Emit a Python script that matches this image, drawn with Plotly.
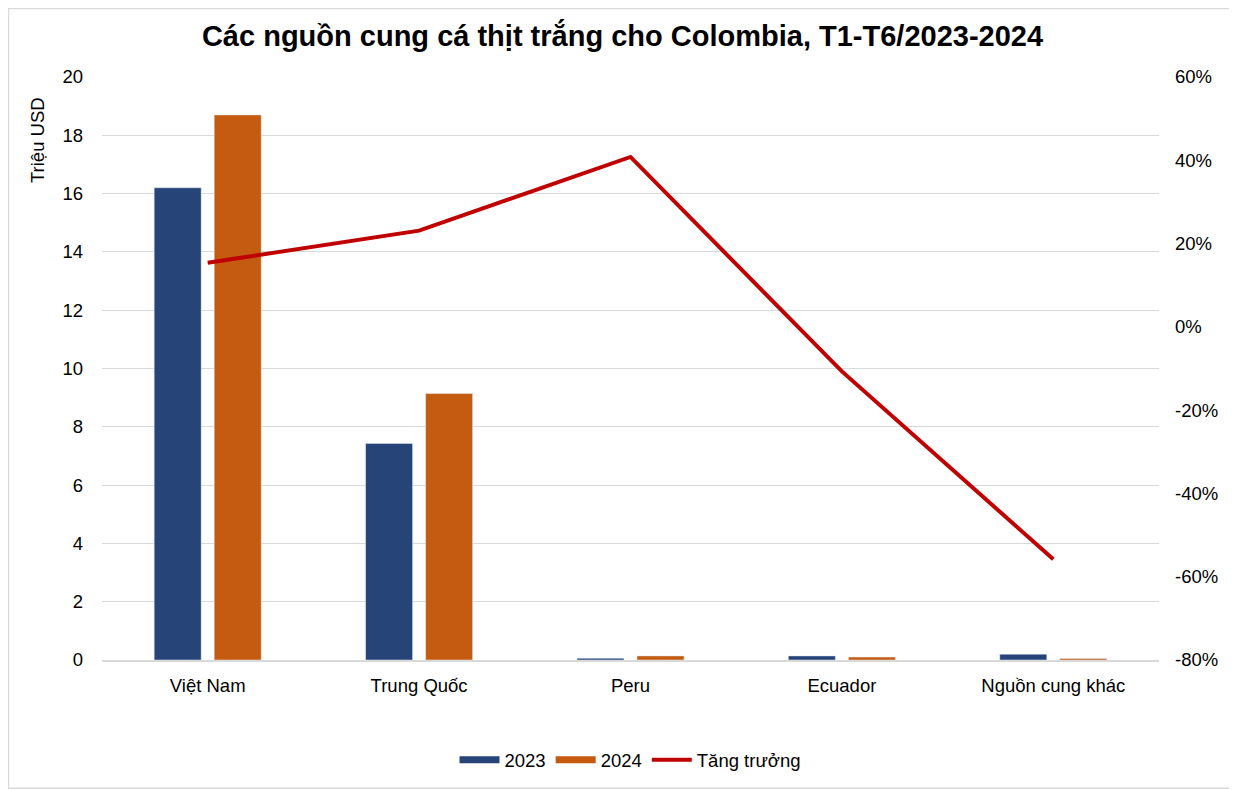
import plotly.graph_objects as go

categories = ["Việt Nam", "Trung Quốc", "Peru", "Ecuador", "Nguồn cung khác"]
values_2023 = [16.2, 7.43, 0.06, 0.14, 0.2]
values_2024 = [18.7, 9.14, 0.14, 0.1, 0.05]
growth = [0.154, 0.231, 0.408, -0.107, -0.558]

right_ticks = [0.6, 0.4, 0.2, 0, -0.2, -0.4, -0.6, -0.8]
right_labels = ["60%", "40%", "20%", "0%", "-20%", "-40%", "-60%", "-80%"]

font = "Liberation Sans, Arial, sans-serif"
c2023, c2024, cline = "#264478", "#C55A11", "#C00000"

fig = go.Figure()
fig.add_trace(go.Bar(x=categories, y=values_2023, name="2023",
                     marker=dict(color=c2023), showlegend=False))
fig.add_trace(go.Bar(x=categories, y=values_2024, name="2024",
                     marker=dict(color=c2024), showlegend=False))
fig.add_trace(go.Scatter(x=categories, y=growth, name="Tăng trưởng",
                         yaxis="y2", mode="lines",
                         line=dict(color=cline, width=4), showlegend=False))

# legend-only entries, to get the wide flat swatches of the original
for name, color, w in [("2023", c2023, 7), ("2024", c2024, 7), ("Tăng trưởng", cline, 4)]:
    fig.add_trace(go.Scatter(x=[None], y=[None], name=name, mode="lines",
                             line=dict(color=color, width=w)))

# page has an 8px body margin, so the figure is a bit smaller and shifted
fig.update_layout(
    width=1229, height=782,
    margin=dict(l=94, r=78, t=69, b=129),
    paper_bgcolor="white", plot_bgcolor="white",
    font=dict(family=font, size=18, color="#000000"),
    title=dict(text="<b>Các nguồn cung cá thịt trắng cho Colombia, T1-T6/2023-2024</b>",
               x=0.5, xanchor="center", y=0.965, yanchor="middle",
               font=dict(size=29, color="#000000")),
    barmode="group", bargap=0.432, bargroupgap=0.217,
    xaxis=dict(showgrid=False, showline=True, linecolor="#D9D9D9", linewidth=1.5,
               ticks="", tickfont=dict(size=18.5), ticklabelstandoff=8),
    yaxis=dict(range=[0, 20], dtick=2, showgrid=True, gridcolor="#D9D9D9",
               gridwidth=1, zeroline=False, ticks="",
               tickfont=dict(size=18.5), ticklabelstandoff=18),
    yaxis2=dict(overlaying="y", side="right", range=[-0.8, 0.6],
                tickvals=right_ticks, ticktext=right_labels, showgrid=False,
                zeroline=False, ticks="", tickfont=dict(size=18.5),
                ticklabelstandoff=15),
    legend=dict(orientation="h", x=0.5, xanchor="center", y=-0.17, yanchor="middle",
                font=dict(size=18.5), traceorder="normal", itemwidth=40),
    annotations=[dict(text="Triệu USD", textangle=-90, xref="paper", yref="paper",
                      x=-0.0605, y=0.892, showarrow=False,
                      xanchor="center", yanchor="middle", font=dict(size=18.5))],
    shapes=[dict(type="rect", xref="paper", yref="paper",
                 x0=-0.0885, x1=1.0733, y0=-0.22, y1=1.1173,
                 line=dict(color="#D9D9D9", width=1.5), layer="below")],
)

fig.write_html("out.html")
